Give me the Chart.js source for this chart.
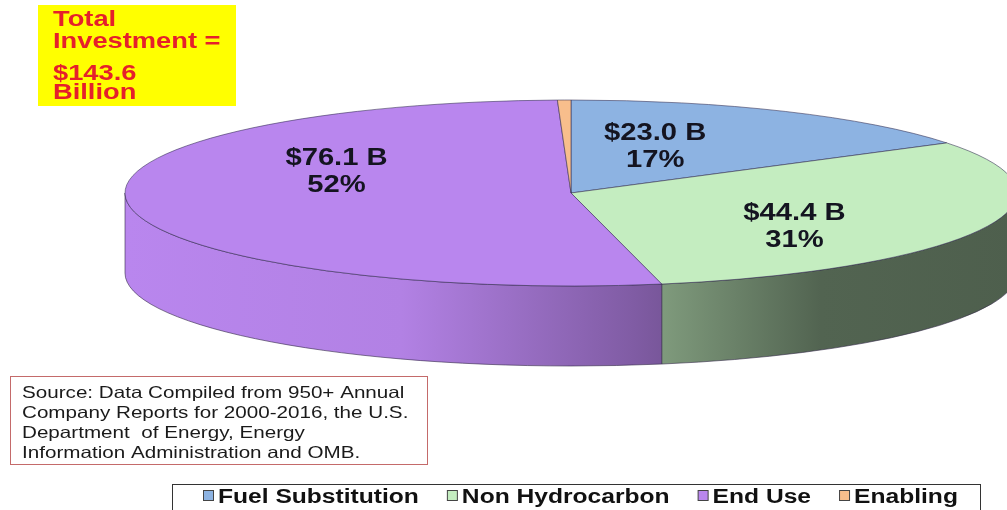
<!DOCTYPE html>
<html>
<head>
<meta charset="utf-8">
<script src="https://cdn.jsdelivr.net/npm/chart.js@4.4.1/dist/chart.umd.min.js"></script>
<style>
  html, body { margin: 0; padding: 0; background: #fff; overflow: hidden; }
  canvas { display: block; }
</style>
</head>
<body>
<canvas id="pie3d" width="1007" height="510"></canvas>
<script>
// chart data (billions of dollars)
const categories = ['Fuel Substitution', 'Non Hydrocarbon', 'End Use', 'Enabling'];
const investment = [23.0, 44.4, 76.1, 0.7];
const amountLabels = ['$23.0 B', '$44.4 B', '$76.1 B', ''];
const shareLabels = ['17%', '31%', '52%', ''];
const totalLines = ['Total', 'Investment =', '$143.6', 'Billion'];
const sourceLines = [
  'Source: Data Compiled from 950+ Annual',
  'Company Reports for 2000-2016, the U.S.',
  'Department  of Energy, Energy',
  'Information Administration and OMB.'
];

const topColors = ['#8DB3E2', '#C4EDC0', '#B986EE', '#F8BE8C'];

// layout of the tilted pie on screen
const CX = 571, CY = 193, RX = 446, RY = 93, DEPTH = 80;
const labelShift = [[-23, -7], [18, 14], [-13, -28], [0, 0]];

function shade(hex, f) {
  const n = parseInt(hex.slice(1), 16);
  const r = Math.round(((n >> 16) & 255) * f);
  const g = Math.round(((n >> 8) & 255) * f);
  const b = Math.round((n & 255) * f);
  return `rgb(${r},${g},${b})`;
}

// the source picture is stretched sideways, so text is drawn wide
function wideText(ctx, text, x, y, align, stretch) {
  const w = ctx.measureText(text).width * stretch;
  let left = x;
  if (align === 'center') left = x - w / 2;
  ctx.save();
  ctx.translate(left, y);
  ctx.scale(stretch, 1);
  ctx.textAlign = 'left';
  ctx.fillText(text, 0, 0);
  ctx.restore();
  return w;
}

const pie3d = {
  id: 'pie3d',
  beforeDatasetsDraw() { return false; },
  afterDraw(chart) {
    const ctx = chart.ctx;
    const arcs = chart.getDatasetMeta(0).data;
    const colors = chart.data.datasets[0].backgroundColor;

    const withTilt = (el, fn) => {
      const sx = RX / el.outerRadius, sy = RY / el.outerRadius;
      ctx.save();
      ctx.translate(CX, CY);
      ctx.scale(sx, sy);
      ctx.translate(-el.x, -el.y);
      fn(sy);
      ctx.restore();
    };

    // side walls (front half only)
    arcs.forEach((el, i) => {
      const s = Math.max(el.startAngle, 0);
      const e = Math.min(el.endAngle, Math.PI);
      if (s >= e) return;
      ctx.beginPath();
      withTilt(el, sy => {
        ctx.arc(el.x, el.y, el.outerRadius, s, e);
        ctx.arc(el.x, el.y + DEPTH / sy, el.outerRadius, e, s, true);
        ctx.closePath();
      });
      const g = ctx.createLinearGradient(CX - RX, 0, CX + RX, 0);
      g.addColorStop(0, shade(colors[i], 1.0));
      g.addColorStop(0.31, shade(colors[i], 0.96));
      g.addColorStop(0.57, shade(colors[i], 0.69));
      g.addColorStop(0.78, shade(colors[i], 0.42));
      g.addColorStop(1, shade(colors[i], 0.40));
      ctx.fillStyle = g;
      ctx.fill();
      ctx.strokeStyle = 'rgba(50,40,70,0.75)';
      ctx.lineWidth = 0.8;
      ctx.stroke();
    });

    // top faces
    arcs.forEach((el, i) => {
      ctx.beginPath();
      withTilt(el, () => {
        ctx.moveTo(el.x, el.y);
        ctx.arc(el.x, el.y, el.outerRadius, el.startAngle, el.endAngle);
        ctx.closePath();
      });
      ctx.fillStyle = colors[i];
      ctx.fill();
      ctx.strokeStyle = 'rgba(50,45,80,0.7)';
      ctx.lineWidth = 0.8;
      ctx.stroke();
    });

    // slice labels
    ctx.fillStyle = '#141420';
    ctx.font = 'bold 23px "Liberation Sans", Arial, sans-serif';
    ctx.textBaseline = 'alphabetic';
    arcs.forEach((el, i) => {
      if (!amountLabels[i]) return;
      const mid = (el.startAngle + el.endAngle) / 2;
      const px = CX + RX * 0.5 * Math.cos(mid) + labelShift[i][0];
      const py = CY + RY * 0.5 * Math.sin(mid) + labelShift[i][1];
      wideText(ctx, amountLabels[i], px, py - 5, 'center', 1.27);
      wideText(ctx, shareLabels[i], px, py + 22, 'center', 1.27);
    });

    // total box
    ctx.fillStyle = '#FFFF00';
    ctx.fillRect(38, 5, 198, 101);
    ctx.fillStyle = '#E5202B';
    ctx.font = 'bold 22px "Liberation Sans", Arial, sans-serif';
    [26, 48, 80, 99].forEach((y, k) => wideText(ctx, totalLines[k], 53, y, 'left', 1.24));

    // source box
    ctx.fillStyle = '#fff';
    ctx.fillRect(10.5, 376.5, 417, 88);
    ctx.strokeStyle = '#C46A6A';
    ctx.lineWidth = 1;
    ctx.strokeRect(10.5, 376.5, 417, 88);
    ctx.fillStyle = '#1a1a1a';
    ctx.font = '16.5px "Liberation Sans", Arial, sans-serif';
    sourceLines.forEach((t, k) => wideText(ctx, t, 22, 398 + k * 20, 'left', 1.25));

    // legend
    ctx.strokeStyle = '#333';
    ctx.lineWidth = 1;
    ctx.strokeRect(172.5, 484.5, 808, 40);
    ctx.font = 'bold 20px "Liberation Sans", Arial, sans-serif';
    let lx = 203;
    categories.forEach((name, i) => {
      ctx.fillStyle = colors[i];
      ctx.fillRect(lx + 0.5, 490.5, 10, 10);
      ctx.strokeStyle = '#444';
      ctx.strokeRect(lx + 0.5, 490.5, 10, 10);
      ctx.fillStyle = '#111';
      const w = wideText(ctx, name, lx + 15, 503, 'left', 1.23);
      lx += 15 + w + 28;
    });
  }
};

new Chart(document.getElementById('pie3d'), {
  type: 'pie',
  data: {
    labels: categories,
    datasets: [{
      label: 'Investment',
      data: investment,
      backgroundColor: topColors,
      borderWidth: 0
    }]
  },
  options: {
    responsive: false,
    animation: false,
    layout: { padding: 0 },
    plugins: {
      legend: { display: false },
      tooltip: { enabled: false }
    }
  },
  plugins: [pie3d]
});
</script>
</body>
</html>
